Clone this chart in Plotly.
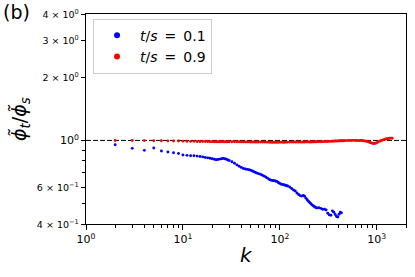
import plotly.graph_objects as go

# ---- data ----
k_blue = [2, 3, 4, 5, 6, 7, 8, 9, 10, 11, 12, 13, 14, 15, 16, 17, 18, 19, 20,
          21, 22, 23, 24, 25, 26, 27, 28, 29, 30,
          32, 34, 36, 38, 40, 42, 44, 46, 48, 50, 52, 54, 56, 58, 60,
          63, 66, 69, 72, 75, 78, 81, 84, 87, 90, 93, 96, 99, 102, 105, 108, 111, 114, 117, 120,
          126, 132, 138, 144, 150, 156, 162, 168, 174, 180, 186, 192, 198, 204, 210, 216, 222, 228, 234, 240,
          252, 264, 276, 288, 300, 312, 324, 336, 348, 360, 372, 384, 396, 408, 420, 432]
ratio_blue = [0.954, 0.917, 0.897, 0.920, 0.890, 0.881, 0.874, 0.866, 0.853, 0.849,
              0.846, 0.845, 0.842, 0.839, 0.835, 0.830, 0.826, 0.822, 0.819,
              0.814, 0.809, 0.811, 0.815, 0.818, 0.821, 0.818, 0.813, 0.807, 0.802,
              0.792, 0.779, 0.765, 0.754, 0.744, 0.735, 0.731, 0.728, 0.725, 0.721,
              0.715, 0.709, 0.703, 0.699, 0.695,
              0.690, 0.683, 0.676, 0.668, 0.660, 0.652, 0.647, 0.645, 0.643, 0.641,
              0.638, 0.631, 0.625, 0.620, 0.618, 0.616, 0.614, 0.612, 0.609, 0.607,
              0.600, 0.590, 0.581, 0.574, 0.562, 0.553, 0.546, 0.543, 0.547, 0.542,
              0.530, 0.520, 0.512, 0.505, 0.498, 0.492, 0.487, 0.483, 0.479, 0.477,
              0.478, 0.475, 0.470, 0.470, 0.466, 0.450, 0.442, 0.440, 0.462, 0.455,
              0.444, 0.434, 0.432, 0.445, 0.455, 0.452]

k_red = [2, 3, 4, 5, 6, 7, 8, 9, 10, 11, 12, 13, 14, 15, 16, 17, 18, 19, 20,
         21, 22, 23, 24, 25, 26, 27, 28, 29, 30,
         32, 34, 36, 38, 40, 42, 44, 46, 48, 50, 52, 54, 56, 58, 60,
         63, 66, 69, 72, 75, 78, 81, 84, 87, 90, 93, 96, 99, 102, 105, 108, 111, 114, 117, 120,
         126, 132, 138, 144, 150, 156, 162, 168, 174, 180, 186, 192, 198, 204, 210, 216, 222, 228, 234, 240,
         252, 264, 276, 288, 300, 312, 324, 336, 348, 360, 372, 384, 396, 408, 420, 432, 444, 456, 468, 480,
         504, 528, 552, 576, 600, 624, 648, 672, 696, 720, 744, 768, 792, 816, 840, 864, 888, 912, 936, 960,
         1000, 1040, 1080, 1120, 1160, 1200, 1240, 1280, 1320, 1360, 1400, 1440]
ratio_red = [1.000, 0.999, 0.998, 0.997, 0.996, 0.995, 0.994, 0.993, 0.992, 0.991,
             0.990, 0.990, 0.989, 0.989, 0.988, 0.988, 0.988, 0.987, 0.987,
             0.986, 0.986, 0.986, 0.986, 0.986, 0.986, 0.986, 0.986, 0.986, 0.986,
             0.986, 0.985, 0.985, 0.985, 0.984, 0.984, 0.984, 0.984, 0.984, 0.983,
             0.983, 0.983, 0.983, 0.983, 0.983,
             0.983, 0.982, 0.982, 0.982, 0.982, 0.981, 0.981, 0.981, 0.981, 0.981,
             0.981, 0.981, 0.982, 0.982, 0.982, 0.981, 0.981, 0.982, 0.982, 0.982,
             0.982, 0.982, 0.983, 0.983, 0.983, 0.983, 0.982, 0.982, 0.983, 0.983,
             0.984, 0.984, 0.984, 0.983, 0.983, 0.984, 0.984, 0.985, 0.985, 0.985,
             0.986, 0.986, 0.987, 0.988, 0.988, 0.989, 0.990, 0.990, 0.991, 0.992,
             0.993, 0.993, 0.994, 0.995, 0.996, 0.996, 0.997, 0.997, 0.998, 0.998,
             0.999, 1.000, 1.000, 1.001, 1.000, 0.999, 0.998, 0.999, 1.000, 0.998,
             0.995, 0.992, 0.990, 0.985, 0.980, 0.975, 0.971, 0.968, 0.966, 0.968,
             0.975, 0.985, 0.993, 1.000, 1.006, 1.012, 1.016, 1.020, 1.022, 1.024, 1.026, 1.025]

series_names = ["<i>t</i>/<i>s</i>\u2002=\u20020.1", "<i>t</i>/<i>s</i>\u2002=\u20020.9"]
series_colors = ["#0000ff", "#ff0000"]

ref_x = [1, 2000]
ref_y = [1, 1]

x_tickvals = [1, 10, 100, 1000]
x_ticktext = ["10<sup>0</sup>", "10<sup>1</sup>", "10<sup>2</sup>", "10<sup>3</sup>"]
x_minor = [2, 3, 4, 5, 6, 7, 8, 9, 20, 30, 40, 50, 60, 70, 80, 90,
           200, 300, 400, 500, 600, 700, 800, 900, 2000]

y_tickvals = [0.4, 0.6, 1, 2, 3, 4]
y_ticktext = ["4 × 10<sup>−1</sup>", "6 × 10<sup>−1</sup>", "10<sup>0</sup>",
              "2 × 10<sup>0</sup>", "3 × 10<sup>0</sup>", "4 × 10<sup>0</sup>"]
y_minor = [0.5, 0.7, 0.8, 0.9]

FONT = "DejaVu Sans"

def small(t):
    return '<span style="font-size:9.5px">' + t + '</span>'

y_ticktext_fmt = [t if v == 1 else small(t) for v, t in zip(y_tickvals, y_ticktext)]

fig = go.Figure()

fig.add_trace(go.Scatter(x=ref_x, y=ref_y, mode="lines",
                         line=dict(color="black", width=1, dash="5px,2px"),
                         showlegend=False, hoverinfo="skip"))

fig.add_trace(go.Scatter(x=k_blue, y=ratio_blue, mode="markers",
                         marker=dict(color=series_colors[0], size=2.9, line=dict(width=0)),
                         showlegend=False))
fig.add_trace(go.Scatter(x=k_red, y=ratio_red, mode="markers",
                         marker=dict(color=series_colors[1], size=2.9, line=dict(width=0)),
                         showlegend=False))

# legend entries
for name, col in zip(series_names, series_colors):
    fig.add_trace(go.Scatter(x=[None], y=[None], mode="markers", name=name,
                             marker=dict(color=col, size=6)))

axis_common = dict(
    showline=True, linecolor="black", linewidth=1, mirror=True, automargin=False,
    showgrid=False, zeroline=False, ticks="outside", tickcolor="black",
    tickwidth=1, tickfont=dict(family=FONT, size=11, color="black"),
)

fig.update_xaxes(type="log", range=[0, 3.30103], tickmode="array",
                 tickvals=x_tickvals, ticktext=x_ticktext, ticklen=5,
                 minor=dict(tickmode="array", tickvals=x_minor, ticklen=3,
                            ticks="outside", tickcolor="black", tickwidth=1, showgrid=False),
                 **axis_common)
fig.update_yaxes(type="log", range=[-0.39794, 0.60206], tickmode="array",
                 tickvals=y_tickvals, ticktext=y_ticktext_fmt, ticklen=4,
                 minor=dict(tickmode="array", tickvals=y_minor, ticklen=3,
                            ticks="outside", tickcolor="black", tickwidth=1, showgrid=False),
                 **axis_common)

fig.update_layout(
    width=415, height=277,
    margin=dict(l=86, r=9, t=14, b=53, autoexpand=False),
    paper_bgcolor="white", plot_bgcolor="white",
    font=dict(family=FONT, color="black"),
    legend=dict(x=0.022, y=0.978, xanchor="left", yanchor="top",
                bgcolor="rgba(255,255,255,0.8)", bordercolor="#cccccc", borderwidth=1,
                font=dict(family=FONT, size=14, color="black"),
                tracegroupgap=0, itemwidth=36),
    annotations=[
        dict(text="(b)", x=0, y=1, xref="paper", yref="paper", xanchor="left", yanchor="top",
             xshift=-85, yshift=15, showarrow=False, font=dict(family=FONT, size=19, color="black")),
        dict(text="<i>k</i>", x=0.5, y=0, xref="paper", yref="paper", xanchor="center", yanchor="top",
             yshift=-17, showarrow=False, font=dict(family=FONT, size=20, color="black")),
        dict(text="<i>ϕ̃</i><sub><i>t</i></sub>/<i>ϕ̃</i><sub><i>s</i></sub>", x=0, y=0.5, xref="paper", yref="paper",
             xanchor="center", yanchor="middle", xshift=-66, yshift=0, textangle=-90,
             showarrow=False, font=dict(family=FONT, size=19, color="black")),
    ],
)

fig.write_html("out.html", config={"displayModeBar": False},
               post_script="document.body.style.margin='0';")
